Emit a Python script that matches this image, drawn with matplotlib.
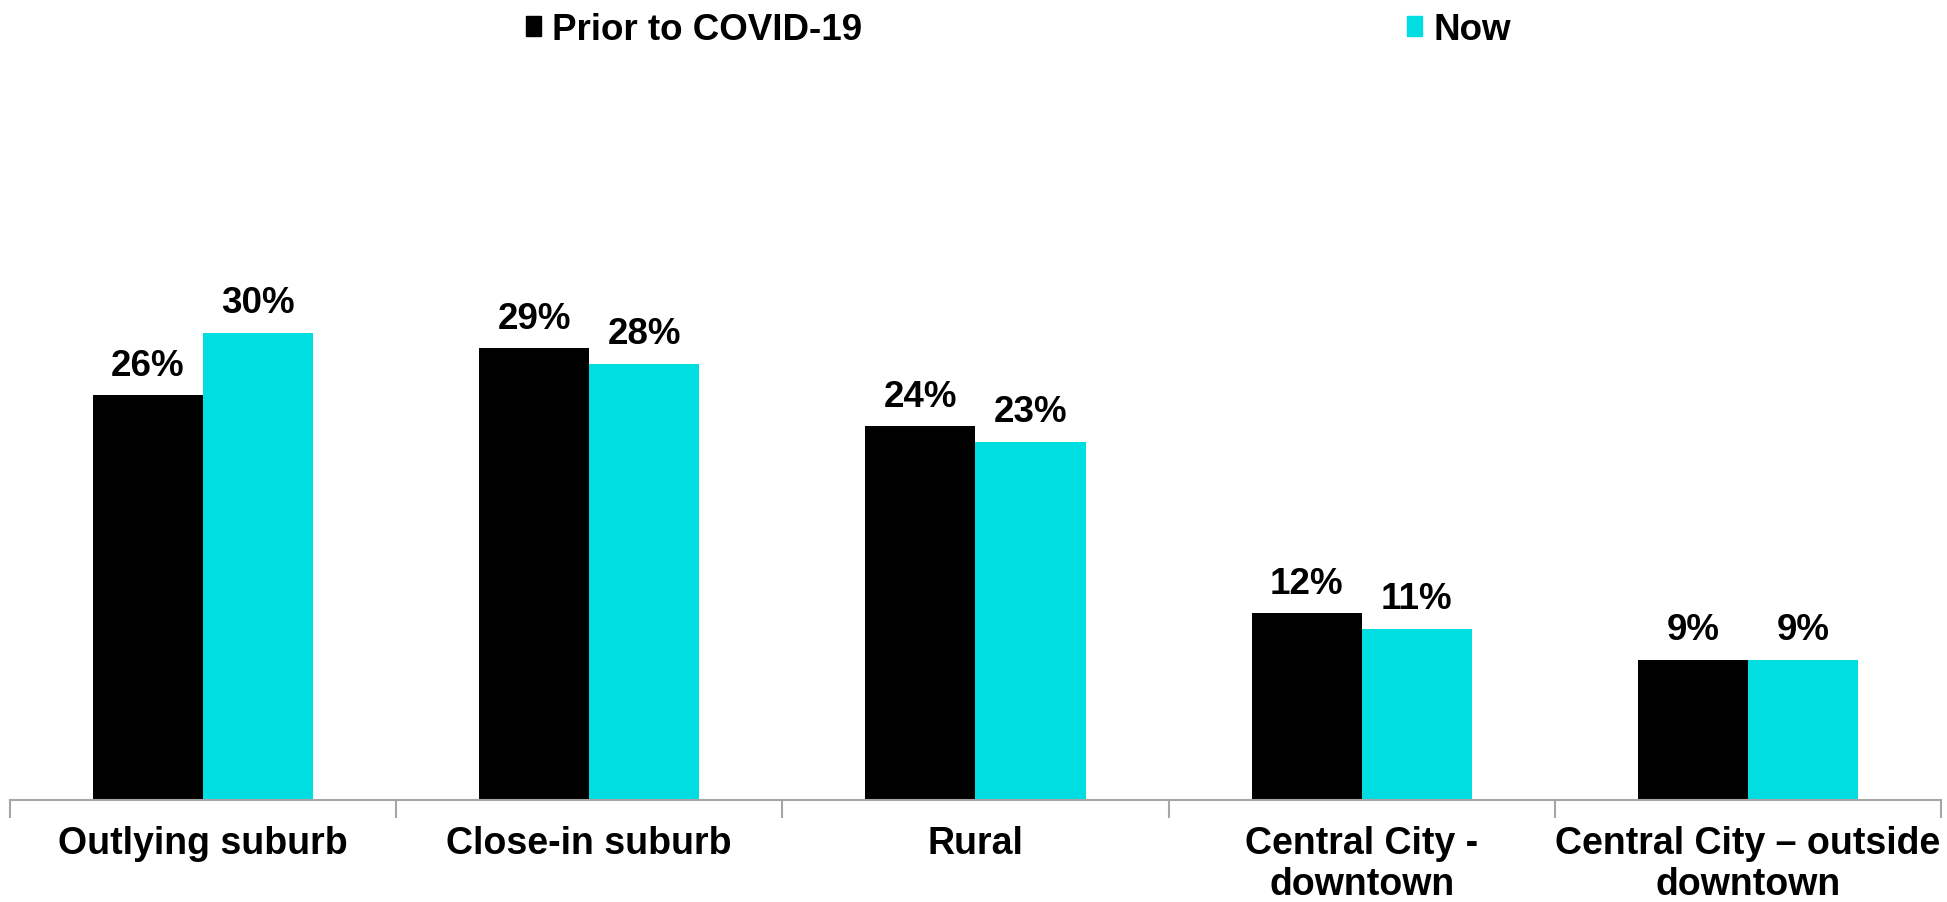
import numpy as np
import matplotlib
matplotlib.use("Agg")
import matplotlib.pyplot as plt
from matplotlib.patches import Patch

plt.rcParams['font.family'] = ['Liberation Sans', 'DejaVu Sans']
plt.rcParams['font.weight'] = 'bold'

categories = ['Outlying suburb', 'Close-in suburb', 'Rural',
              'Central City -\ndowntown', 'Central City – outside\ndowntown']
prior = [26, 29, 24, 12, 9]
now = [30, 28, 23, 11, 9]
series_names = ['Prior to COVID-19', 'Now']
colors = ['#000000', '#00DEE2']

fig = plt.figure(figsize=(19.47, 9.03), dpi=100)
ax = fig.add_axes([0.0051, 0.113, 0.9918, 0.776])

x = np.arange(len(categories))
w = 0.285
b1 = ax.bar(x - w / 2, prior, w, color=colors[0])
b2 = ax.bar(x + w / 2, now, w, color=colors[1])
for bars in (b1, b2):
    ax.bar_label(bars, labels=[f'{v}%' for v in bars.datavalues],
                 padding=9, fontsize=26.5, fontweight='bold')

ax.set_xlim(-0.5, len(categories) - 0.5)
ax.set_ylim(0, 45)
ax.set_xticks(x)
ax.set_xticklabels(categories, fontsize=27, fontweight='bold', linespacing=1.18)
ax.set_xticks(np.arange(len(categories) + 1) - 0.5, minor=True)
ax.tick_params(axis='x', which='major', length=0, pad=18)
ax.tick_params(axis='x', which='minor', length=13, color='#A6A6A6', width=1.5)
ax.set_yticks([])
for s in ['top', 'right', 'left']:
    ax.spines[s].set_visible(False)
ax.spines['bottom'].set_color('#A6A6A6')
ax.spines['bottom'].set_linewidth(1.5)

handles = [Patch(color=c, label=n) for c, n in zip(colors, series_names)]
fig.legend(handles=handles, loc='upper center', bbox_to_anchor=(0.523, 1.022),
           ncol=2, frameon=False, handlelength=0.42, handleheight=0.47,
           handletextpad=0.3, columnspacing=14.8,
           prop={'weight': 'bold', 'size': 26.5})

fig.savefig('out.png', dpi=100)
